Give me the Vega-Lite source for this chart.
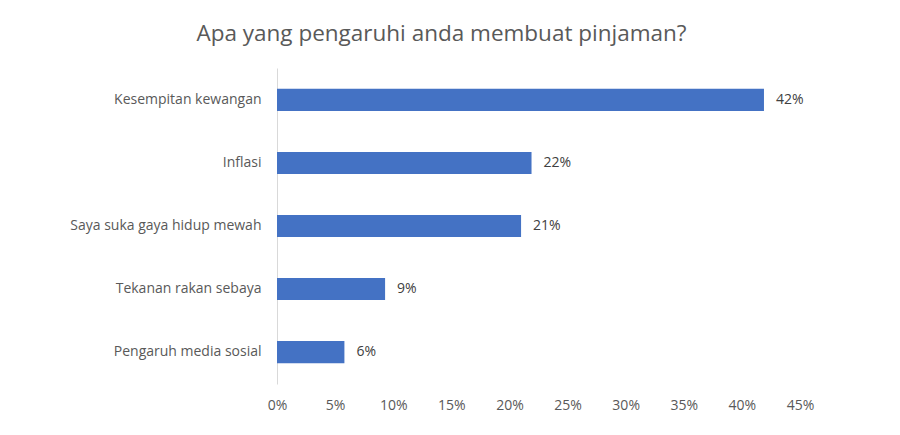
{
  "$schema": "https://vega.github.io/schema/vega-lite/v6.json",
  "width": 523,
  "height": 316,
  "autosize": {"type": "none"},
  "padding": {"left": 277, "top": 68, "right": 100, "bottom": 51},
  "background": "white",
  "title": {
    "text": "Apa yang pengaruhi anda membuat pinjaman?",
    "font": "Open Sans",
    "fontSize": 22.5,
    "fontWeight": "normal",
    "color": "#595959",
    "anchor": "middle",
    "dx": -97,
    "offset": 23
  },
  "data": {
    "values": [
      {"faktor": "Kesempitan kewangan", "peratus": 0.419},
      {"faktor": "Inflasi", "peratus": 0.219},
      {"faktor": "Saya suka gaya hidup mewah", "peratus": 0.21},
      {"faktor": "Tekanan rakan sebaya", "peratus": 0.093},
      {"faktor": "Pengaruh media sosial", "peratus": 0.058}
    ]
  },
  "config": {
    "view": {"stroke": null},
    "axis": {
      "labelFont": "Open Sans",
      "labelFontSize": 14,
      "labelColor": "#595959",
      "labelLimit": 300,
      "grid": false,
      "ticks": false,
      "title": null
    }
  },
  "encoding": {
    "y": {
      "field": "faktor",
      "type": "nominal",
      "sort": null,
      "scale": {"paddingInner": 0.65, "paddingOuter": 0.33},
      "axis": {"domainColor": "#d9d9d9", "domainWidth": 1, "labelPadding": 16}
    },
    "x": {
      "field": "peratus",
      "type": "quantitative",
      "scale": {"domain": [0, 0.45], "nice": false},
      "axis": {"format": ".0%", "values": [0, 0.05, 0.1, 0.15, 0.2, 0.25, 0.3, 0.35, 0.4, 0.45], "domain": false, "labelFlush": false, "labelPadding": 14}
    }
  },
  "layer": [
    {"mark": {"type": "bar", "color": "#4472C4"}},
    {
      "mark": {"type": "text", "align": "left", "dx": 12, "font": "Open Sans", "fontSize": 14, "color": "#404040"},
      "encoding": {"text": {"field": "peratus", "type": "quantitative", "format": ".0%"}}
    }
  ]
}
